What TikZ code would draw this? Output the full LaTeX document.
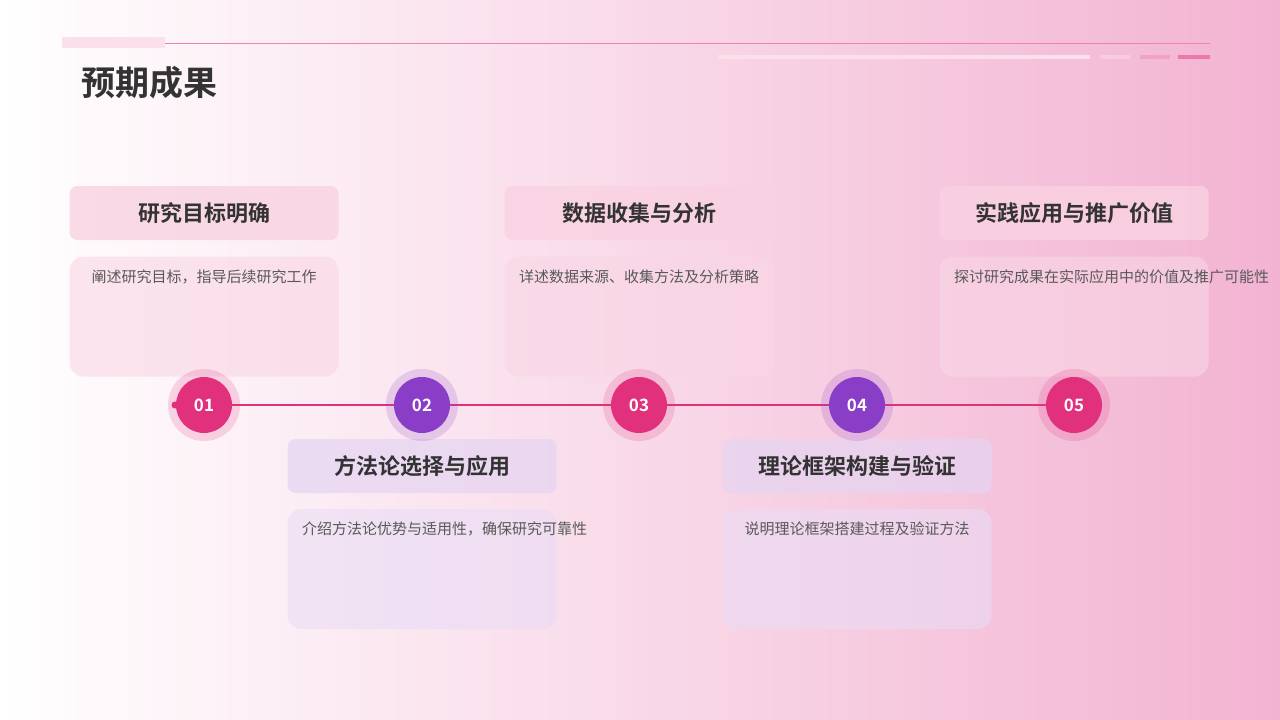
\documentclass[tikz,border=0pt]{standalone}
\usepackage{fontspec}
\usetikzlibrary{shadings}
\setmainfont{Noto Sans CJK SC}
\newfontfamily\cjkb{Noto Sans CJK SC Bold}
\begin{document}
\begin{tikzpicture}[x=1pt,y=-1pt,
  hdr/.style={rounded corners=8pt,minimum width=269pt,minimum height=54pt,inner sep=0pt,font=\cjkb\fontsize{22}{26}\selectfont,text=black!80},
  bdy/.style={rounded corners=14pt,minimum width=269pt,minimum height=120pt,inner sep=0pt},
  btxt/.style={text width=240pt,align=center,font=\fontsize{15}{23}\selectfont,text=black!65},
  circ/.style={circle,minimum size=56pt,inner sep=0pt,text=white,font=\cjkb\fontsize{17}{20}\selectfont},
  ]
\definecolor{pk}{HTML}{E2317C}
\definecolor{pu}{HTML}{8A3DC6}
\definecolor{bgpk}{HTML}{EFA0C6}
\useasboundingbox (0,0) rectangle (1280,720);
\shade[left color=white,right color=bgpk!80] (0,0) rectangle (1280,720);
% top decorations
\fill[pk!15] (62,37) rectangle (165,48);
\draw[pk!60,line width=1pt] (165,43) -- (1210,43);
\fill[pk!15] (718,55) rectangle (1090,59);
\fill[pk!25] (1100,55) rectangle (1130,59);
\fill[pk!45] (1140,55) rectangle (1170,59);
\fill[pk!65] (1178,55) rectangle (1210,59);
\node[anchor=west,font=\cjkb\fontsize{34}{40}\selectfont,text=black!80] (title) at (78,83) {预期成果};
% timeline
\coordinate (ls) at (175,405); \coordinate (le) at (1075,405);
\draw[pk,line width=2.5pt] (ls) -- (le);
\fill[pk] (ls) circle (3.5pt);
% cards top
\foreach \x/\h/\b/\n in {204/研究目标明确/{阐述研究目标，指导后续研究工作}/a,639/数据收集与分析/{详述数据来源、收集方法及分析策略}/c,1074/实践应用与推广价值/{探讨研究成果在实际应用中的价值及推广可能性}/e}{
  \node[hdr,fill=pk!22,fill opacity=0.8,text opacity=1] (h\n) at (\x,213) {\h};
  \node[bdy,fill=pk!20,fill opacity=0.6] (b\n) at (\x,316.5) {};
  \node[btxt,anchor=north] (t\n) at (\x,266) {\b};
}
\foreach \x/\h/\b/\n in {422/方法论选择与应用/{介绍方法论优势与适用性，确保研究可靠性}/b,857/理论框架构建与验证/{说明理论框架搭建过程及验证方法}/d}{
  \node[hdr,fill=pu!22,fill opacity=0.7,text opacity=1] (h\n) at (\x,466) {\h};
  \node[bdy,fill=pu!18,fill opacity=0.6] (b\n) at (\x,569) {};
  \node[btxt,anchor=north] (t\n) at (\x,518) {\b};
}
% circles
\foreach \x/\t/\c in {204/01/pk,422/02/pu,639/03/pk,857/04/pu,1074/05/pk}{
  \fill[\c,opacity=0.18] (\x,405) circle (36pt);
  \node[circ,fill=\c] (c\t) at (\x,405) {\t};
}
\end{tikzpicture}
\end{document}
